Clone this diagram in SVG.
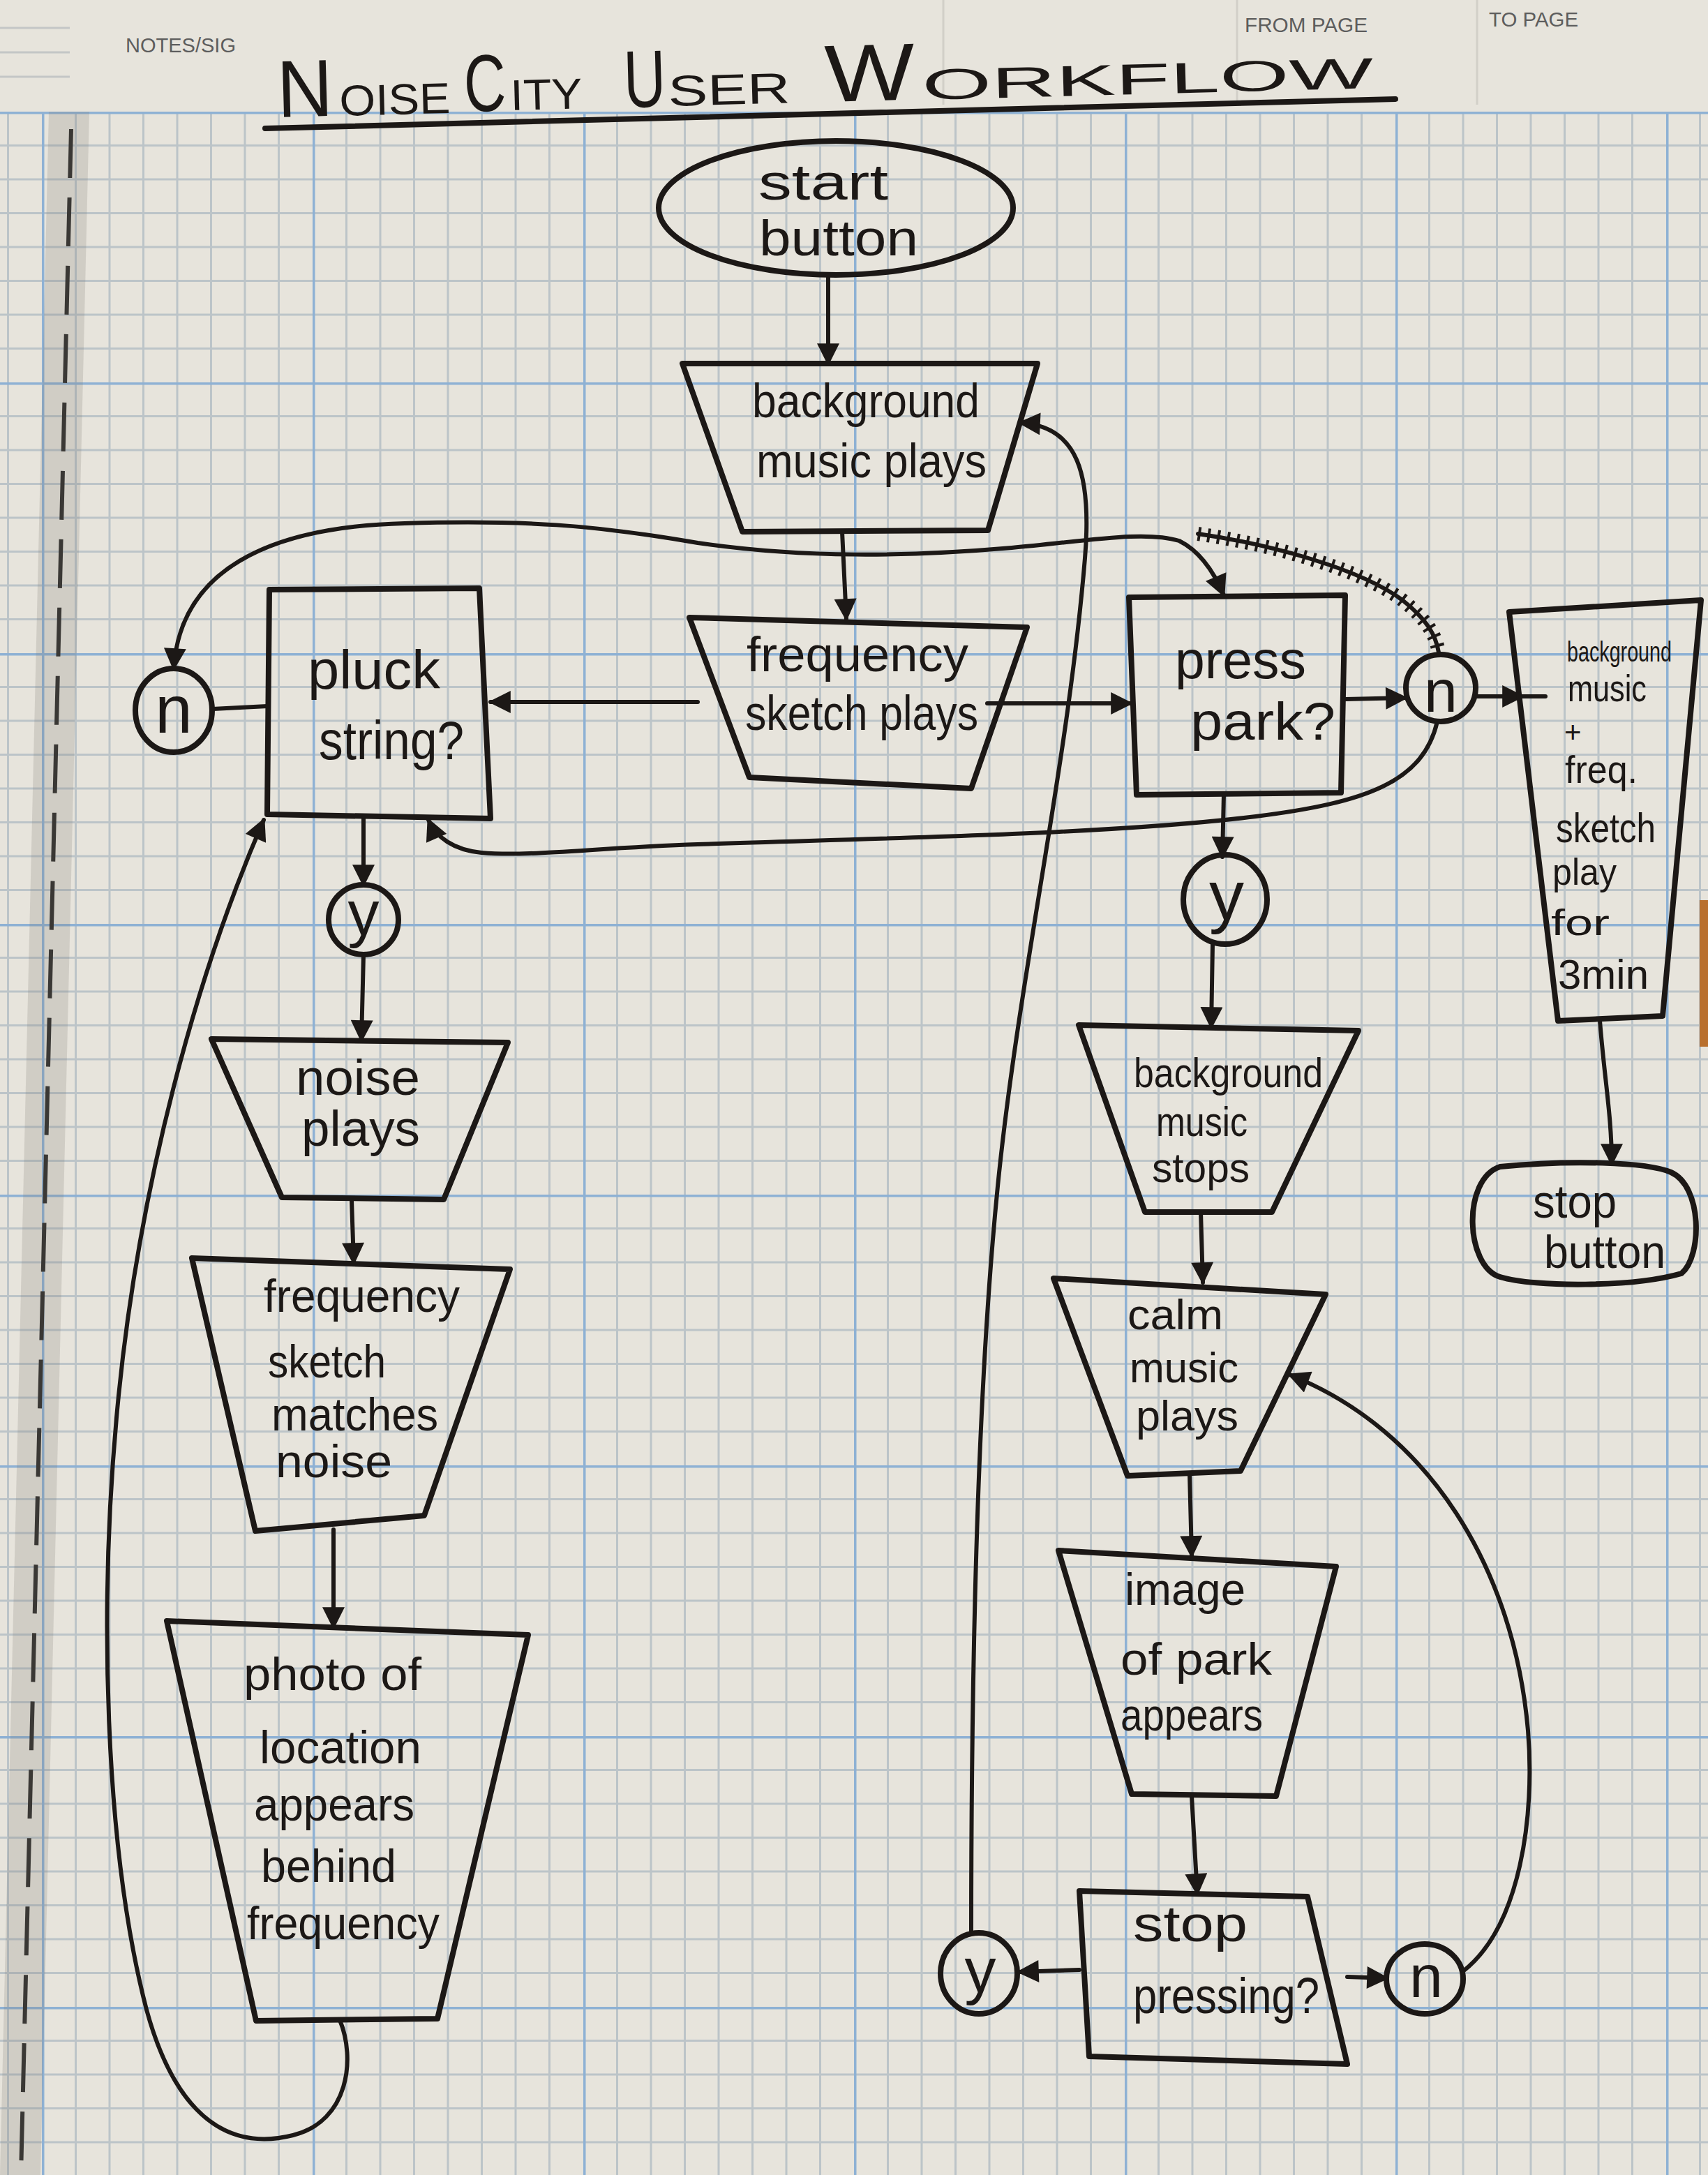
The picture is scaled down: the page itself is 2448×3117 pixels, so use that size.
<svg xmlns="http://www.w3.org/2000/svg" width="2448" height="3117" viewBox="0 0 2448 3117">
<style>
.shape{fill:none;stroke:#1c1816;stroke-width:8;stroke-linejoin:round;stroke-linecap:round}
.conn{fill:none;stroke:#1c1816;stroke-width:6;stroke-linecap:round}
.t{font-family:"Liberation Sans",Arial,sans-serif;fill:#1c1816}
.ttl{font-family:"Liberation Sans",Arial,sans-serif;fill:#1c1816;font-size:62px}
.big{font-size:116px}
.hdr{font-family:"Liberation Sans",Arial,sans-serif;fill:#5d5d5d;font-size:30px}
</style>
<defs>
<pattern id="grid" patternUnits="userSpaceOnUse" x="60" y="160" width="388" height="388">
<path d="M48.5,0V388M97,0V388M145.5,0V388M194,0V388M242.5,0V388M291,0V388M339.5,0V388M0,48.5H388M0,97H388M0,145.5H388M0,194H388M0,242.5H388M0,291H388M0,339.5H388" stroke="#bcc4c8" stroke-width="3" fill="none"/>
<path d="M1.5,0V388M0,1.5H388" stroke="#8eb1d4" stroke-width="4" fill="none"/>
</pattern>
<marker id="ah" viewBox="0 0 10 10" refX="9" refY="5" markerWidth="34" markerHeight="32" markerUnits="userSpaceOnUse" orient="auto-start-reverse">
<path d="M0,0L10,5L0,10Z" fill="#1c1816"/>
</marker>
</defs>
<rect x="0" y="0" width="2448" height="3117" fill="#e7e4dc"/>
<rect x="0" y="160" width="2448" height="2957" fill="url(#grid)"/>
<path d="M0,40H100M0,75H100M0,110H100" stroke="#c4c6c6" stroke-width="3"/>
<polygon points="70,160 128,160 58,3117 0,3117" fill="#7f7c76" opacity="0.22"/>
<path d="M102,185 L30,3117" stroke="#3a3835" stroke-width="6" stroke-dasharray="70 28"/>
<rect x="2436" y="1290" width="12" height="210" fill="#b9702e"/>
<path d="M1352,0V150M1773,0V150M2117,0V150" stroke="#d2cfc8" stroke-width="3"/>

<g id="header">
<text class="hdr" x="180" y="75" textLength="158" lengthAdjust="spacingAndGlyphs">NOTES/SIG</text>
<text class="hdr" x="1784" y="46" textLength="176" lengthAdjust="spacingAndGlyphs">FROM PAGE</text>
<text class="hdr" x="2134" y="38" textLength="128" lengthAdjust="spacingAndGlyphs">TO PAGE</text>
</g>

<g id="title">
<text class="ttl big" x="398" y="168" transform="rotate(-1.5 398 168)" textLength="80" lengthAdjust="spacingAndGlyphs">N</text>
<text class="ttl" x="487" y="166" transform="rotate(-1.5 487 166)" textLength="159" lengthAdjust="spacingAndGlyphs">OISE</text>
<text class="ttl big" x="666" y="160" transform="rotate(-1.5 666 160)" textLength="60" lengthAdjust="spacingAndGlyphs">C</text>
<text class="ttl" x="732" y="158" transform="rotate(-1.5 732 158)" textLength="103" lengthAdjust="spacingAndGlyphs">ITY</text>
<text class="ttl big" x="895" y="154" transform="rotate(-1.5 895 154)" textLength="60" lengthAdjust="spacingAndGlyphs">U</text>
<text class="ttl" x="958" y="152" transform="rotate(-1.5 958 152)" textLength="175" lengthAdjust="spacingAndGlyphs">SER</text>
<text class="ttl big" x="1183" y="146" transform="rotate(-1.5 1183 146)" textLength="129" lengthAdjust="spacingAndGlyphs">W</text>
<text class="ttl" x="1322" y="143" transform="rotate(-1.5 1322 143)" textLength="647" lengthAdjust="spacingAndGlyphs">ORKFLOW</text>
<path class="shape" d="M380,184 C800,172 1400,162 2000,142"/>
</g>

<g id="connectors">
<path class="conn" marker-end="url(#ah)" d="M1187,394 L1187,521"/>
<path class="conn" marker-end="url(#ah)" d="M1207,762 L1213,887"/>
<path class="conn" marker-end="url(#ah)" d="M1000,1006 L703,1006"/>
<path class="conn" d="M383,1012 L305,1016"/>
<path class="conn" marker-start="url(#ah)" marker-end="url(#ah)" d="M249,958 C258,820 380,755 580,750 C750,745 850,752 1000,778 C1150,800 1300,798 1450,785 C1560,775 1640,760 1690,775 C1720,790 1740,820 1754,853"/>
<path class="conn" d="M1717,765 C1820,780 1950,815 2010,860 C2045,888 2058,910 2062,935"/>
<path fill="none" stroke="#1c1816" stroke-width="20" stroke-dasharray="4 10" d="M1717,765 C1820,780 1950,815 2010,860 C2045,888 2058,910 2062,935"/>
<path class="conn" marker-end="url(#ah)" d="M1415,1008 L1621,1008"/>
<path class="conn" marker-end="url(#ah)" d="M1929,1002 L2015,1000"/>
<path class="conn" marker-end="url(#ah)" d="M2115,998 L2182,998"/>
<path class="conn" d="M2182,998 L2215,998"/>
<path class="conn" marker-end="url(#ah)" d="M2060,1034 C2040,1120 1960,1150 1800,1170 C1600,1195 1300,1200 1000,1210 C850,1215 760,1228 690,1222 C650,1218 625,1200 614,1175"/>
<path class="conn" marker-end="url(#ah)" d="M521,1172 L521,1268"/>
<path class="conn" marker-end="url(#ah)" d="M521,1368 L518,1491"/>
<path class="conn" marker-end="url(#ah)" d="M504,1720 L507,1810"/>
<path class="conn" marker-end="url(#ah)" d="M478,2192 L478,2332"/>
<path class="conn" marker-end="url(#ah)" d="M487,2895 C510,2950 500,3040 420,3060 C300,3090 240,2990 210,2880 C150,2650 140,2300 170,2000 C200,1700 280,1400 378,1175"/>
<path class="conn" marker-end="url(#ah)" d="M2293,1463 C2300,1550 2310,1600 2310,1668"/>
<path class="conn" marker-end="url(#ah)" d="M1754,1138 L1752,1228"/>
<path class="conn" marker-end="url(#ah)" d="M1738,1353 L1736,1472"/>
<path class="conn" marker-end="url(#ah)" d="M1721,1737 L1724,1838"/>
<path class="conn" marker-end="url(#ah)" d="M1705,2112 L1708,2230"/>
<path class="conn" marker-end="url(#ah)" d="M1708,2574 L1716,2714"/>
<path class="conn" marker-end="url(#ah)" d="M1547,2823 L1460,2826"/>
<path class="conn" marker-end="url(#ah)" d="M1392,2770 C1392,2400 1400,2000 1430,1700 C1460,1400 1530,1100 1555,800 C1565,680 1545,610 1462,606"/>
<path class="conn" marker-end="url(#ah)" d="M1931,2833 L1988,2835"/>
<path class="conn" marker-end="url(#ah)" d="M2097,2825 C2180,2760 2200,2600 2190,2480 C2170,2250 2050,2050 1848,1970"/>
</g>

<g id="start">
<ellipse class="shape" cx="1198" cy="298" rx="254" ry="96"/>
<text class="t" x="1087" y="286" font-size="72" textLength="186" lengthAdjust="spacingAndGlyphs">start</text>
<text class="t" x="1088" y="366" font-size="72" textLength="228" lengthAdjust="spacingAndGlyphs">button</text>
</g>

<g id="bg-music-plays">
<polygon class="shape" points="978,521 1487,521 1416,760 1064,762"/>
<text class="t" x="1078" y="598" font-size="68" textLength="326" lengthAdjust="spacingAndGlyphs">background</text>
<text class="t" x="1084" y="684" font-size="68" textLength="330" lengthAdjust="spacingAndGlyphs">music plays</text>
</g>

<g id="freq-sketch-plays">
<polygon class="shape" points="988,885 1472,899 1392,1130 1074,1114"/>
<text class="t" x="1070" y="962" font-size="70" textLength="318" lengthAdjust="spacingAndGlyphs">frequency</text>
<text class="t" x="1068" y="1046" font-size="70" textLength="334" lengthAdjust="spacingAndGlyphs">sketch plays</text>
</g>

<g id="pluck-string">
<polygon class="shape" points="386,845 687,843 703,1173 383,1167"/>
<text class="t" x="441" y="987" font-size="78" textLength="190" lengthAdjust="spacingAndGlyphs">pluck</text>
<text class="t" x="457" y="1088" font-size="78" textLength="208" lengthAdjust="spacingAndGlyphs">string?</text>
</g>

<g id="n-pluck">
<ellipse class="shape" cx="249" cy="1018" rx="55" ry="60"/>
<text class="t" x="249" y="1050" font-size="96" text-anchor="middle">n</text>
</g>

<g id="press-park">
<polygon class="shape" points="1618,856 1928,853 1922,1136 1629,1139"/>
<text class="t" x="1684" y="972" font-size="76" textLength="188" lengthAdjust="spacingAndGlyphs">press</text>
<text class="t" x="1706" y="1060" font-size="76" textLength="208" lengthAdjust="spacingAndGlyphs">park?</text>
</g>

<g id="n-park">
<ellipse class="shape" cx="2065" cy="986" rx="50" ry="48"/>
<text class="t" x="2065" y="1020" font-size="86" text-anchor="middle">n</text>
</g>

<g id="bg-freq-3min">
<polygon class="shape" points="2163,877 2438,860 2383,1456 2233,1463"/>
<text class="t" x="2246" y="948" font-size="40" textLength="150" lengthAdjust="spacingAndGlyphs">background</text>
<text class="t" x="2247" y="1005" font-size="54" textLength="113" lengthAdjust="spacingAndGlyphs">music</text>
<text class="t" x="2242" y="1064" font-size="42">+</text>
<text class="t" x="2243" y="1122" font-size="56" textLength="104" lengthAdjust="spacingAndGlyphs">freq.</text>
<text class="t" x="2230" y="1207" font-size="60" textLength="143" lengthAdjust="spacingAndGlyphs">sketch</text>
<text class="t" x="2225" y="1268" font-size="54" textLength="92" lengthAdjust="spacingAndGlyphs">play</text>
<text class="t" x="2223" y="1340" font-size="52" textLength="84" lengthAdjust="spacingAndGlyphs">for</text>
<text class="t" x="2233" y="1417" font-size="60" textLength="130" lengthAdjust="spacingAndGlyphs">3min</text>
</g>

<g id="stop-button">
<path class="shape" d="M2150,1672 C2250,1662 2360,1665 2395,1680 C2440,1700 2440,1800 2410,1825 C2340,1845 2200,1845 2150,1830 C2100,1815 2095,1690 2150,1672 Z"/>
<text class="t" x="2197" y="1745" font-size="66" textLength="120" lengthAdjust="spacingAndGlyphs">stop</text>
<text class="t" x="2213" y="1817" font-size="66" textLength="174" lengthAdjust="spacingAndGlyphs">button</text>
</g>

<g id="y-pluck">
<ellipse class="shape" cx="521" cy="1318" rx="50" ry="50"/>
<text class="t" x="521" y="1340" font-size="90" text-anchor="middle">y</text>
</g>

<g id="noise-plays">
<polygon class="shape" points="303,1489 728,1494 636,1719 404,1716"/>
<text class="t" x="424" y="1569" font-size="72" textLength="178" lengthAdjust="spacingAndGlyphs">noise</text>
<text class="t" x="432" y="1642" font-size="72" textLength="170" lengthAdjust="spacingAndGlyphs">plays</text>
</g>

<g id="freq-matches-noise">
<polygon class="shape" points="275,1803 731,1819 608,2172 366,2194"/>
<text class="t" x="378" y="1880" font-size="66" textLength="281" lengthAdjust="spacingAndGlyphs">frequency</text>
<text class="t" x="384" y="1974" font-size="66" textLength="169" lengthAdjust="spacingAndGlyphs">sketch</text>
<text class="t" x="389" y="2050" font-size="66" textLength="239" lengthAdjust="spacingAndGlyphs">matches</text>
<text class="t" x="395" y="2117" font-size="66" textLength="167" lengthAdjust="spacingAndGlyphs">noise</text>
</g>

<g id="photo-location">
<polygon class="shape" points="239,2323 757,2343 627,2893 367,2896"/>
<text class="t" x="349" y="2422" font-size="66" textLength="255" lengthAdjust="spacingAndGlyphs">photo of</text>
<text class="t" x="372" y="2527" font-size="66" textLength="232" lengthAdjust="spacingAndGlyphs">location</text>
<text class="t" x="364" y="2609" font-size="66" textLength="230" lengthAdjust="spacingAndGlyphs">appears</text>
<text class="t" x="374" y="2697" font-size="66" textLength="194" lengthAdjust="spacingAndGlyphs">behind</text>
<text class="t" x="354" y="2779" font-size="66" textLength="276" lengthAdjust="spacingAndGlyphs">frequency</text>
</g>

<g id="y-park">
<ellipse class="shape" cx="1756" cy="1289" rx="60" ry="64"/>
<text class="t" x="1758" y="1318" font-size="100" text-anchor="middle">y</text>
</g>

<g id="bg-music-stops">
<polygon class="shape" points="1546,1469 1947,1477 1823,1737 1641,1737"/>
<text class="t" x="1625" y="1558" font-size="60" textLength="271" lengthAdjust="spacingAndGlyphs">background</text>
<text class="t" x="1657" y="1628" font-size="60" textLength="131" lengthAdjust="spacingAndGlyphs">music</text>
<text class="t" x="1651" y="1694" font-size="60" textLength="140" lengthAdjust="spacingAndGlyphs">stops</text>
</g>

<g id="calm-music-plays">
<polygon class="shape" points="1510,1832 1900,1855 1778,2108 1616,2115"/>
<text class="t" x="1616" y="1905" font-size="62" textLength="137" lengthAdjust="spacingAndGlyphs">calm</text>
<text class="t" x="1619" y="1981" font-size="62" textLength="156" lengthAdjust="spacingAndGlyphs">music</text>
<text class="t" x="1628" y="2050" font-size="62" textLength="147" lengthAdjust="spacingAndGlyphs">plays</text>
</g>

<g id="image-of-park">
<polygon class="shape" points="1517,2222 1915,2245 1829,2574 1622,2571"/>
<text class="t" x="1612" y="2300" font-size="64" textLength="173" lengthAdjust="spacingAndGlyphs">image</text>
<text class="t" x="1606" y="2400" font-size="64" textLength="217" lengthAdjust="spacingAndGlyphs">of park</text>
<text class="t" x="1606" y="2480" font-size="64" textLength="204" lengthAdjust="spacingAndGlyphs">appears</text>
</g>

<g id="stop-pressing">
<polygon class="shape" points="1547,2710 1874,2718 1931,2958 1561,2947"/>
<text class="t" x="1624" y="2782" font-size="72" textLength="164" lengthAdjust="spacingAndGlyphs">stop</text>
<text class="t" x="1624" y="2885" font-size="72" textLength="267" lengthAdjust="spacingAndGlyphs">pressing?</text>
</g>

<g id="y-stop">
<ellipse class="shape" cx="1403" cy="2828" rx="55" ry="58"/>
<text class="t" x="1405" y="2855" font-size="90" text-anchor="middle">y</text>
</g>

<g id="n-stop">
<ellipse class="shape" cx="2042" cy="2836" rx="55" ry="50"/>
<text class="t" x="2044" y="2862" font-size="86" text-anchor="middle">n</text>
</g>
</svg>
